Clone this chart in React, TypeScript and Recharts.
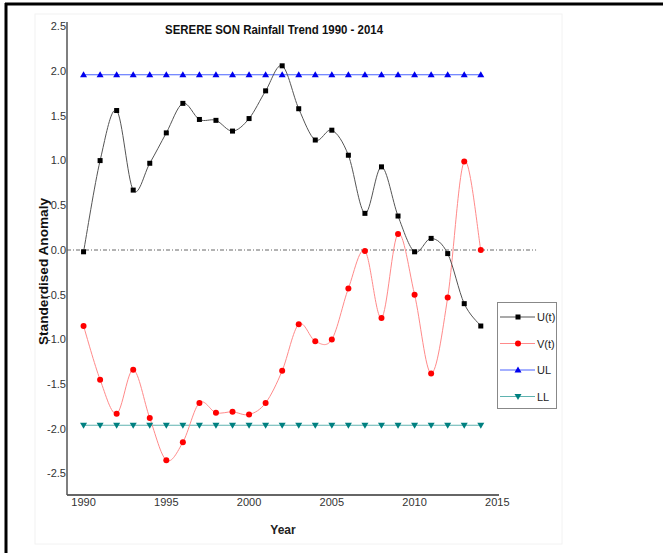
import React from "react";
import { LineChart, Line, XAxis, YAxis, ReferenceLine } from "recharts";

const years = [
  1990, 1991, 1992, 1993, 1994, 1995, 1996, 1997, 1998, 1999, 2000, 2001,
  2002, 2003, 2004, 2005, 2006, 2007, 2008, 2009, 2010, 2011, 2012, 2013, 2014
];
const uT = [
  -0.02, 1.0, 1.56, 0.67, 0.97, 1.31, 1.64, 1.46, 1.45, 1.33, 1.47, 1.78,
  2.06, 1.58, 1.23, 1.34, 1.06, 0.41, 0.93, 0.38, -0.02, 0.13, -0.04, -0.6, -0.85
];
const vT = [
  -0.85, -1.45, -1.83, -1.34, -1.88, -2.35, -2.15, -1.71, -1.82, -1.81, -1.84, -1.71,
  -1.35, -0.83, -1.02, -1.0, -0.43, -0.01, -0.76, 0.18, -0.5, -1.38, -0.53, 0.99, 0.0
];
const upperLimit = 1.96;
const lowerLimit = -1.96;
const xTicks = [1990, 1995, 2000, 2005, 2010, 2015];
const yTicks = [-2.5, -2, -1.5, -1, -0.5, 0, 0.5, 1, 1.5, 2, 2.5];

const data = years.map((year, i) => ({
  year,
  u: uT[i],
  v: vT[i],
  ul: upperLimit,
  ll: lowerLimit
}));

const FONT = "'Liberation Sans', Arial, sans-serif";

// uniform Catmull-Rom, same look as the spline in the original plot
function catmullRom(context: any) {
  let pts: number[][] = [];
  return {
    areaStart() {},
    areaEnd() {},
    lineStart() {
      pts = [];
    },
    point(x: number, y: number) {
      pts.push([+x, +y]);
    },
    lineEnd() {
      const n = pts.length;
      if (!n) return;
      context.moveTo(pts[0][0], pts[0][1]);
      for (let i = 0; i < n - 1; i++) {
        const p0 = pts[Math.max(i - 1, 0)];
        const p1 = pts[i];
        const p2 = pts[i + 1];
        const p3 = pts[Math.min(i + 2, n - 1)];
        context.bezierCurveTo(
          p1[0] + (p2[0] - p0[0]) / 6,
          p1[1] + (p2[1] - p0[1]) / 6,
          p2[0] - (p3[0] - p1[0]) / 6,
          p2[1] - (p3[1] - p1[1]) / 6,
          p2[0],
          p2[1]
        );
      }
    }
  };
}

const square = (fill: string) => (p: any) => (
  <rect key={`s${p.index}`} x={p.cx - 2.5} y={p.cy - 2.5} width={5} height={5} fill={fill} />
);
const circle = (fill: string) => (p: any) => (
  <circle key={`c${p.index}`} cx={p.cx} cy={p.cy} r={3} fill={fill} />
);
const triUp = (fill: string) => (p: any) => (
  <path key={`u${p.index}`} d={`M${p.cx},${p.cy - 3.5}L${p.cx + 3.5},${p.cy + 2.5}L${p.cx - 3.5},${p.cy + 2.5}Z`} fill={fill} />
);
const triDown = (fill: string) => (p: any) => (
  <path key={`d${p.index}`} d={`M${p.cx},${p.cy + 3.5}L${p.cx + 3.5},${p.cy - 2.5}L${p.cx - 3.5},${p.cy - 2.5}Z`} fill={fill} />
);

const legendRows = [
  { name: "U(t)", line: "#555", marker: square("#000") },
  { name: "V(t)", line: "#ff8a8a", marker: circle("#ff0000") },
  { name: "UL", line: "#4a63ff", marker: triUp("#0000ee") },
  { name: "LL", line: "#5fb3b0", marker: triDown("#008080") }
];

function LegendBox() {
  return (
    <svg
      width={60}
      height={107}
      style={{ position: "absolute", left: 497, top: 302 }}
    >
      <rect x={0.5} y={0.5} width={59} height={106} fill="#fff" stroke="#888" />
      {legendRows.map((r, i) => {
        const y = 15 + i * 26.5;
        return (
          <g key={r.name}>
            <line x1={3} x2={38} y1={y} y2={y} stroke={r.line} strokeWidth={1.2} />
            {r.marker({ cx: 21, cy: y, index: i })}
            <text x={40} y={y + 4} fontSize={11} fontFamily={FONT} fill="#222">
              {r.name}
            </text>
          </g>
        );
      })}
    </svg>
  );
}

export default function App() {
  return (
    <div style={{ position: "absolute", left: 0, top: 0, width: 663, height: 553, background: "#fff" }}>
      <LineChart
        width={663}
        height={553}
        data={data}
        margin={{ top: 22, right: 164, bottom: 38, left: 27 }}
      >
        <XAxis
          dataKey="year"
          type="number"
          domain={[1989, 2015.1]}
          ticks={xTicks}
          allowDataOverflow
          height={20}
          tickSize={0}
          tickMargin={3}
          axisLine={{ stroke: "#333", strokeWidth: 1.5 }}
          tick={{ fontSize: 11, fill: "#333", fontFamily: FONT }}
        />
        <YAxis
          type="number"
          domain={[-2.74, 2.55]}
          ticks={yTicks}
          allowDataOverflow
          width={40}
          tickSize={0}
          tickMargin={1}
          tickFormatter={(v: number) => v.toFixed(1)}
          axisLine={{ stroke: "#555", strokeWidth: 1.5 }}
          tick={{ fontSize: 11, fill: "#333", fontFamily: FONT }}
        />
        <ReferenceLine
          segment={[
            { x: 1989, y: 0 },
            { x: 2017.34, y: 0 }
          ]}
          ifOverflow="visible"
          stroke="#666"
          strokeDasharray="4 2 1 2"
        />
        <Line dataKey="ul" type="linear" stroke="#4a63ff" strokeWidth={1.2} dot={triUp("#0000ee")} isAnimationActive={false} />
        <Line dataKey="ll" type="linear" stroke="#5fb3b0" strokeWidth={1.2} dot={triDown("#008080")} isAnimationActive={false} />
        <Line dataKey="v" type={catmullRom as any} stroke="#ff8a8a" strokeWidth={1} dot={circle("#ff0000")} isAnimationActive={false} />
        <Line dataKey="u" type={catmullRom as any} stroke="#555" strokeWidth={1} dot={square("#000")} isAnimationActive={false} />
      </LineChart>
      <LegendBox />
      <svg
        width={663}
        height={553}
        style={{ position: "absolute", left: 0, top: 0, pointerEvents: "none" }}
      >
        <rect x={35} y={14} width={527} height={530} fill="none" stroke="#f2f2f2" />
        <line x1={5} x2={663} y1={4} y2={4} stroke="#000" strokeWidth={3} />
        <line x1={6} x2={6} y1={3} y2={553} stroke="#000" strokeWidth={3} />
        <text x={274} y={34} textAnchor="middle" fontFamily={FONT} fontSize={13} fontWeight="bold" fill="#111" textLength={218} lengthAdjust="spacingAndGlyphs">
          SERERE SON Rainfall Trend 1990 - 2014
        </text>
        <text
          transform="translate(48,271.5) rotate(-90)"
          textAnchor="middle"
          fontFamily={FONT}
          fontSize={12}
          fontWeight="bold"
          fill="#111"
          textLength={147}
          lengthAdjust="spacingAndGlyphs"
        >
          Standerdised Anomaly
        </text>
        <text x={283} y={534} textAnchor="middle" fontFamily={FONT} fontSize={12} fontWeight="bold" fill="#222">
          Year
        </text>
      </svg>
    </div>
  );
}
